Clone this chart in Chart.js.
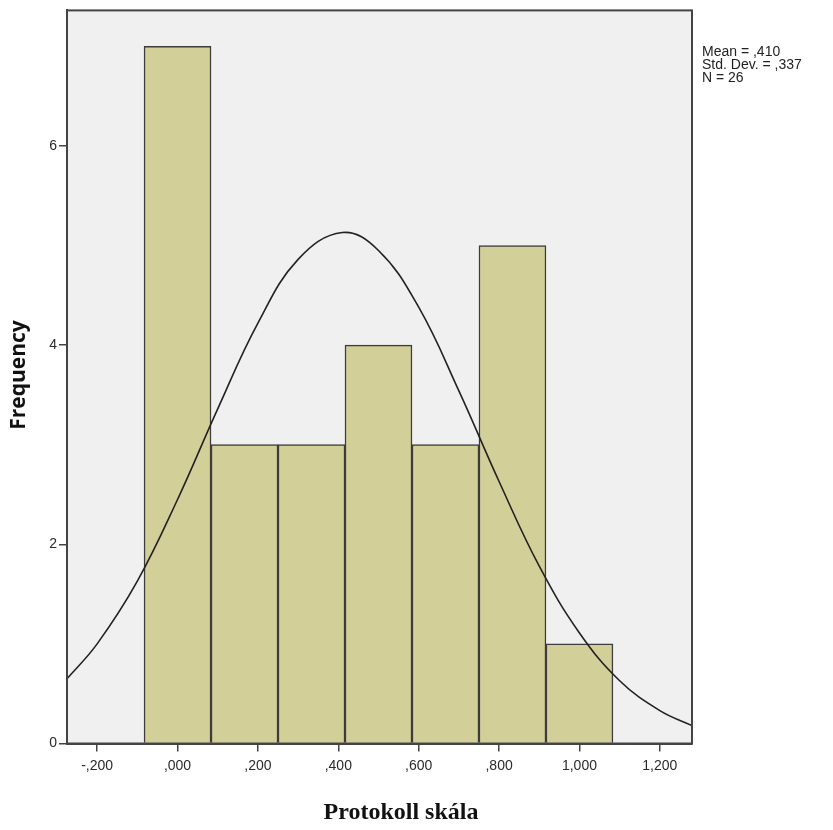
<!DOCTYPE html>
<html>
<head>
<meta charset="utf-8">
<script src="https://cdn.jsdelivr.net/npm/chart.js@4/dist/chart.umd.min.js"></script>
<style>
  html, body { margin: 0; padding: 0; background: #fff; }
  #wrap { width: 833px; height: 830px; }
</style>
</head>
<body>
<div id="wrap"><canvas id="histo"></canvas></div>
<script>
// Histogram: Protokoll skála
const binCenters = [0, 1/6, 2/6, 3/6, 4/6, 5/6, 1];
const frequencies = [7, 3, 3, 4, 3, 5, 1];

// normal curve
const curveX = [-0.275, -0.2, -0.1, 0, 0.1, 0.2, 0.3, 0.41, 0.5, 0.6, 0.7, 0.8, 0.9, 1.0, 1.1, 1.2, 1.28];
const curveY = [0.65, 1.0, 1.63, 2.45, 3.36, 4.22, 4.86, 5.13, 4.95, 4.38, 3.54, 2.63, 1.78, 1.11, 0.63, 0.33, 0.18];

const xTicks = [-0.2, 0, 0.2, 0.4, 0.6, 0.8, 1.0, 1.2];
const yTicks = [0, 2, 4, 6];
const statsLines = ['Mean = ,410', 'Std. Dev. = ,337', 'N = 26'];

function fmt(v) {
  let s = Math.abs(v).toFixed(3).replace('.', ',');
  if (s.startsWith('0')) s = s.slice(1);
  return (v < 0 ? '-' : '') + s;
}

const frame = {
  id: 'frame',
  beforeDraw(chart) {
    const a = chart.chartArea, ctx = chart.ctx;
    ctx.save();
    ctx.fillStyle = '#f0f0f0';
    ctx.fillRect(a.left, a.top, a.right - a.left, a.bottom - a.top);
    ctx.restore();
  },
  afterDraw(chart) {
    const a = chart.chartArea, ctx = chart.ctx;
    ctx.save();
    ctx.strokeStyle = '#444';
    ctx.lineWidth = 2;
    ctx.strokeRect(a.left, a.top, a.right - a.left, a.bottom - a.top);

    ctx.fillStyle = '#222';
    ctx.font = '14px "Liberation Sans", Arial, sans-serif';
    ctx.textBaseline = 'alphabetic';
    statsLines.forEach((t, i) => ctx.fillText(t, 702, 56 + i * 13));

    ctx.font = 'bold 24px "Liberation Serif", "Times New Roman", serif';
    ctx.textAlign = 'center';
    ctx.textBaseline = 'middle';
    ctx.fillStyle = '#111';
    ctx.fillText('Protokoll skála', 401, 813);

    ctx.translate(19, 375);
    ctx.rotate(-Math.PI / 2);
    ctx.font = 'bold 21px "Open Sans", "DejaVu Sans", sans-serif';
    ctx.fillText('Frequency', 0, 0);
    ctx.restore();
  }
};

new Chart(document.getElementById('histo'), {
  type: 'bar',
  data: {
    datasets: [{
      type: 'line',
      data: curveX.map((x, i) => ({ x: x, y: curveY[i] })),
      borderColor: '#222',
      borderWidth: 1.6,
      pointRadius: 0,
      tension: 0.4,
      fill: false,
      order: 0
    }, {
      type: 'bar',
      data: binCenters.map((x, i) => ({ x: x, y: frequencies[i] })),
      backgroundColor: '#d3cf98',
      borderColor: '#3c3c3c',
      borderWidth: 1.5,
      barPercentage: 1,
      categoryPercentage: 1,
      order: 1
    }]
  },
  options: {
    responsive: true,
    maintainAspectRatio: false,
    animation: false,
    layout: { padding: { left: 0, right: 141, top: 7, bottom: 0 } },
    plugins: { legend: { display: false }, tooltip: { enabled: false } },
    scales: {
      x: {
        type: 'linear',
        offset: false,
        min: -0.275,
        max: 1.28,
        afterBuildTicks: s => { s.ticks = xTicks.map(v => ({ value: v })); },
        afterFit: s => { s.height = 86.5; },
        grid: { offset: false, drawOnChartArea: false, drawTicks: true, tickLength: 8, color: '#444', lineWidth: 1.5 },
        border: { display: true, color: '#444', width: 2 },
        ticks: {
          callback: v => fmt(v),
          color: '#2a2a2a',
          font: { family: '"Liberation Sans", Arial, sans-serif', size: 14 },
          padding: 6,
          maxRotation: 0
        }
      },
      y: {
        min: 0,
        max: 7.36,
        afterBuildTicks: s => { s.ticks = yTicks.map(v => ({ value: v })); },
        afterFit: s => { s.width = 67; },
        grid: { drawOnChartArea: false, drawTicks: true, tickLength: 8, color: '#444', lineWidth: 1.5 },
        border: { display: true, color: '#444', width: 2 },
        ticks: {
          color: '#2a2a2a',
          font: { family: '"Liberation Sans", Arial, sans-serif', size: 14 },
          padding: 2
        }
      }
    }
  },
  plugins: [frame]
});
</script>
</body>
</html>
